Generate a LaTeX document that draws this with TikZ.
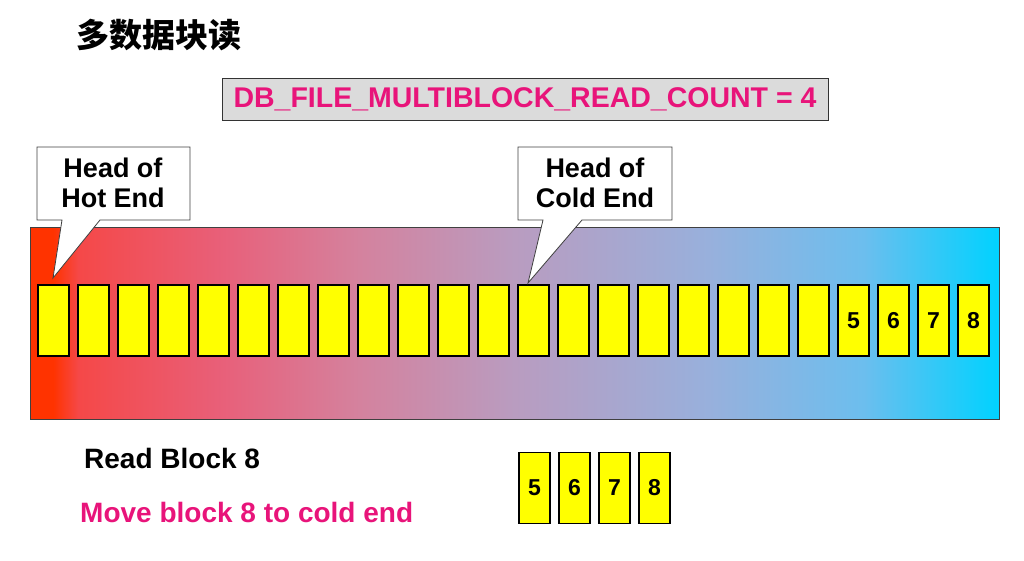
\documentclass[tikz,border=0pt]{standalone}
\usepackage{fontspec}
\setmainfont{Liberation Sans}
\newfontfamily\cjk{Noto Sans CJK SC}
\definecolor{pinktxt}{HTML}{E8147A}
\definecolor{cA}{HTML}{FF3300}
\definecolor{cB}{HTML}{F54848}
\definecolor{cC}{HTML}{E8607A}
\definecolor{cD}{HTML}{D4829E}
\definecolor{cE}{HTML}{B99CC0}
\definecolor{cF}{HTML}{98B0DC}
\definecolor{cG}{HTML}{6CBEEE}
\definecolor{cH}{HTML}{00D2FF}
\definecolor{blkyel}{HTML}{FFFF00}
\pgfdeclarehorizontalshading{barshade}{100bp}{color(0bp)=(cA); color(25bp)=(cA); color(26.2bp)=(cA); color(27.5bp)=(cB); color(35bp)=(cC); color(42bp)=(cD); color(50bp)=(cE); color(60bp)=(cF); color(68bp)=(cG); color(75bp)=(cH); color(100bp)=(cH)}
\tikzset{
  blk/.style={draw=black, line width=1.5pt, fill=blkyel, minimum width=31pt, minimum height=71pt, inner sep=0pt, font=\fontsize{23}{23}\selectfont\bfseries},
  callout/.style={draw=black!75, line width=0.8pt, fill=white},
  calltext/.style={align=center, font=\fontsize{27}{30}\selectfont\bfseries},
}
\begin{document}
\begin{tikzpicture}[x=1pt,y=-1pt]
\useasboundingbox (0,0) rectangle (1024,560);
% title
\node[anchor=center, font=\cjk\fontsize{33}{33}\selectfont\bfseries] (title) at (159,35) {多数据块读};
% parameter box
\node[draw=black!80, line width=1pt, fill=black!14, minimum width=606pt, minimum height=42pt, inner sep=0pt, text=pinktxt, font=\fontsize{28.5}{28.5}\selectfont\bfseries] (param) at (525,99) {DB\_FILE\_MULTIBLOCK\_READ\_COUNT = 4};
% bar
\node[draw=black!75, line width=1pt, shading=barshade, minimum width=969pt, minimum height=192pt, inner sep=0pt] (bar) at (514.5,323) {};
% blocks
\foreach \i in {0,...,19} \node[blk] (b\i) at ({53.5+40*\i},320.5) {};
\foreach \i/\n in {20/5,21/6,22/7,23/8} \node[blk] (b\i) at ({53.5+40*\i},320.5) {\n};
% callouts
\draw[callout] (37,147) -- (190,147) -- (190,220) -- (100,220) -- (53,278) -- (62,220) -- (37,220) -- cycle;
\node[calltext] (hot) at (113,183) {Head of\\Hot End};
\draw[callout] (518,147) -- (672,147) -- (672,220) -- (582,220) -- (528,283) -- (543,220) -- (518,220) -- cycle;
\node[calltext] (cold) at (595,183) {Head of\\Cold End};
% bottom texts
\node[anchor=base west, inner sep=0pt, font=\fontsize{28}{28}\selectfont\bfseries] (read) at (84,468) {Read Block 8};
\node[anchor=base west, inner sep=0pt, text=pinktxt, font=\fontsize{28}{28}\selectfont\bfseries] (move) at (80,522) {Move block 8 to cold end};
% bottom blocks
\foreach \k/\n in {0/5,1/6,2/7,3/8} \node[blk] (r\k) at ({534.5+40*\k},488) {\n};
\end{tikzpicture}
\end{document}
